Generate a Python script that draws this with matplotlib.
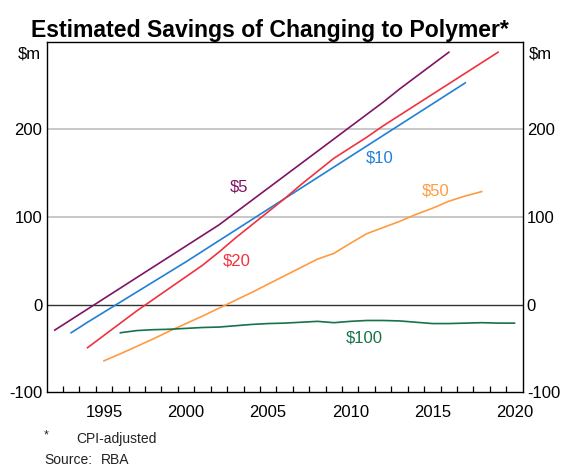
import matplotlib
matplotlib.use("Agg")
import matplotlib.pyplot as plt

plt.rcParams['font.family'] = ['Liberation Sans', 'DejaVu Sans']

years_5 = list(range(1992, 2017))
val_5 = [-29, -17, -5, 7, 19, 31, 43, 55, 67, 79, 91, 105, 119, 133, 147, 161,
         175, 189, 203, 217, 231, 246, 260, 274, 288]

years_10 = list(range(1993, 2018))
val_10 = [-32, -20, -8.5, 3, 14.5, 26, 37.5, 49, 61, 73, 85, 97, 109, 121, 133,
          145, 157, 169, 181, 193, 205, 217, 229, 241, 253]

years_20 = list(range(1994, 2020))
val_20 = [-49, -35, -21, -7, 6, 19, 32, 45, 60, 76, 91, 106, 121, 137, 152, 167,
          179, 191, 204, 216, 228, 240, 252, 264, 276, 288]

years_50 = list(range(1995, 2019))
val_50 = [-64, -56, -47.5, -39, -30, -21.5, -13, -4, 5, 14, 23.5, 33, 42.5, 52,
          58.5, 70, 81, 88, 95, 103, 110, 118, 124, 129]

years_100 = list(range(1996, 2021))
val_100 = [-32, -29.5, -28.5, -28, -27, -26, -25.5, -24, -22.5, -21.5, -21, -20,
           -19, -20.5, -19, -18, -18, -18.5, -20, -21.5, -21.5, -21, -20.5, -21, -21]

series_names = ['$5', '$10', '$20', '$50', '$100']
series_colors = ['#7f1463', '#1f80d6', '#f0323f', '#ff9b40', '#17714a']
label_pos = [(2003.7, 134), (2012.3, 167), (2003.6, 50), (2015.7, 130), (2011.35, -38)]

y_ticks = [-100, 0, 100, 200]
x_tick_labels = ['1995', '2000', '2005', '2010', '2015', '2020']

fig = plt.figure(figsize=(5.63, 4.66), dpi=100)
ax = fig.add_axes([0.0826, 0.158, 0.8458, 0.7525])

ax.set_xlim(1992, 2021)
ax.set_ylim(-100, 300)

for yv in [100, 200]:
    ax.axhline(yv, color='#c8c8c8', lw=1.4, zorder=1)
ax.axhline(0, color='#333333', lw=1.0, zorder=1)

data = [(years_5, val_5), (years_10, val_10), (years_20, val_20),
        (years_50, val_50), (years_100, val_100)]
for (yrs, vals), name, col, (lx, ly) in zip(data, series_names, series_colors, label_pos):
    ax.plot([y + 0.5 for y in yrs], vals, color=col, lw=1.2, zorder=3)
    ax.text(lx, ly, name, color=col, fontsize=12, ha='center', va='center', zorder=4)

for s in ax.spines.values():
    s.set_linewidth(1.0)
    s.set_color('black')

ax.set_yticks(y_ticks)
ax.set_yticklabels([str(v) for v in y_ticks])
ax.tick_params(axis='y', which='both', length=0, labelsize=12, pad=3,
               labelleft=True, labelright=True)

ax.set_xticks(list(range(1993, 2021)))
ax.set_xticklabels([])
ax.tick_params(axis='x', which='major', direction='in', length=4.5, width=0.9)
ax.set_xticks([int(t) + 0.5 for t in x_tick_labels], minor=True)
ax.set_xticklabels(x_tick_labels, minor=True)
ax.tick_params(axis='x', which='minor', length=0, labelsize=12, pad=9)

ax.text(-0.012, 0.985, '$m', transform=ax.transAxes, ha='right', va='top', fontsize=12)
ax.text(1.012, 0.985, '$m', transform=ax.transAxes, ha='left', va='top', fontsize=12)

fig.text(0.48, 0.921, 'Estimated Savings of Changing to Polymer*', ha='center', va='baseline',
         fontsize=16.6, fontweight='bold')

fig.text(0.078, 0.066, '*', ha='left', va='center', fontsize=9, color='#222222')
fig.text(0.135, 0.058, 'CPI-adjusted', ha='left', va='center', fontsize=10, color='#222222')
fig.text(0.078, 0.013, 'Source:', ha='left', va='center', fontsize=10, color='#222222')
fig.text(0.18, 0.013, 'RBA', ha='left', va='center', fontsize=10, color='#222222')

fig.savefig('out.png', dpi=100)
